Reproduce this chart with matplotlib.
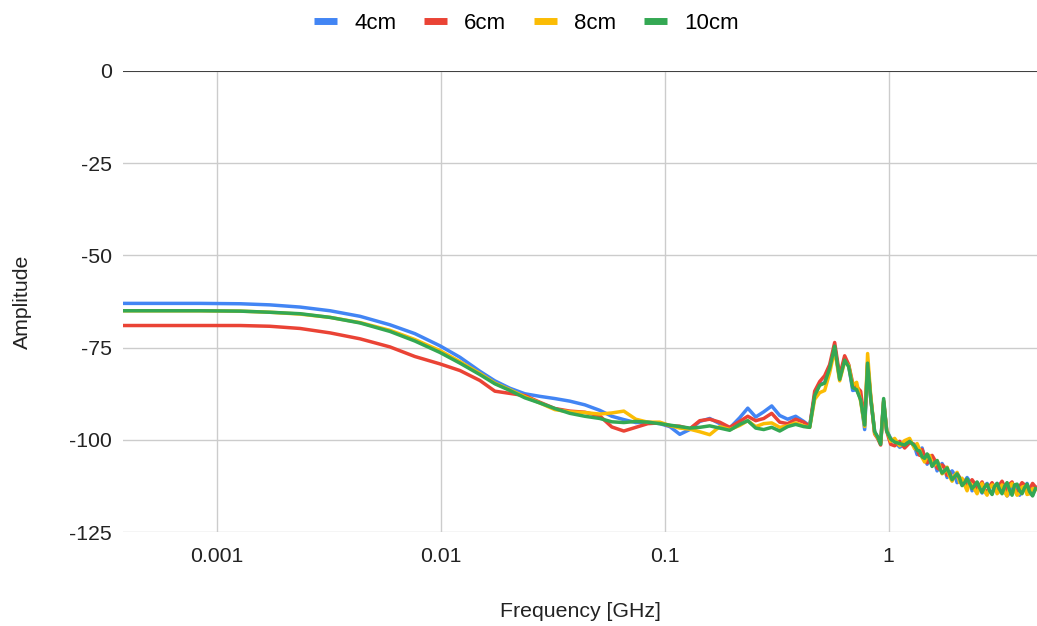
import matplotlib.pyplot as plt
from matplotlib.ticker import NullLocator

# frequency points in GHz
freq = [0.00038, 0.000556, 0.00084, 0.00127, 0.00172, 0.00235, 0.0032, 0.00435,
        0.00592, 0.00765, 0.0099, 0.01216, 0.01493, 0.01742, 0.02032, 0.02371,
        0.02767, 0.03228, 0.03766, 0.04394, 0.05127, 0.05799, 0.06561, 0.07422,
        0.08396, 0.09499, 0.1053, 0.1167, 0.1293, 0.1433, 0.1588, 0.176,
        0.195, 0.2161, 0.2348, 0.2548, 0.2767, 0.3004, 0.3262, 0.354,
        0.3843, 0.4174, 0.444, 0.4673, 0.492, 0.5179, 0.5452, 0.574,
        0.6043, 0.6361, 0.663, 0.6908, 0.7197, 0.7499, 0.7814, 0.8055,
        0.831, 0.866, 0.8932, 0.9211, 0.9499, 0.9797, 1.021, 1.064,
        1.12, 1.179, 1.241,
        1.306, 1.340, 1.375, 1.411, 1.448, 1.486, 1.524, 1.564, 1.605, 1.646,
        1.689, 1.733, 1.778, 1.825, 1.872, 1.921, 1.971, 2.022, 2.075, 2.129,
        2.184, 2.241, 2.299, 2.359, 2.421, 2.484, 2.548, 2.615, 2.683, 2.753,
        2.824, 2.898, 2.973, 3.051, 3.13, 3.211, 3.296, 3.381, 3.469, 3.559,
        3.652, 3.747, 3.845, 3.944, 4.048, 4.152, 4.261, 4.395, 4.532]

cm4 = [-63, -63, -63, -63.1, -63.4, -64, -65, -66.5,
       -68.8, -71.2, -74.5, -77.6, -81.4, -84, -86, -87.5,
       -88.2, -88.8, -89.5, -90.5, -92, -93.6, -94.5, -95.3,
       -95.2, -95.6, -96.4, -98.5, -97.2, -95, -94.2, -95.6,
       -96.8, -94, -91.4, -93.8, -92.4, -90.8, -93.4, -94.4,
       -93.6, -95, -96.2, -88, -84.8, -84.6, -80.2, -74.8,
       -83.4, -77.8, -79.8, -86.6, -86.4, -88.8, -97.2, -79.6,
       -88.6, -97.8, -99.2, -100.8, -89.8, -97.4, -99.6, -100.4,
       -102, -101.2, -100.2,
       -101.8, -104, -103.2, -102.2, -104.8, -106.6, -105.2, -107, -106, -108.4,
       -107.2, -106.4, -107.8, -110.2, -109, -108.4, -109.4, -111.6, -110.6, -112,
       -111.4, -110.2, -111.2, -113.8, -112.6, -111.6, -113.2, -114.4, -112.4, -111.8,
       -113.6, -114.6, -112.8, -111.8, -114, -113, -112.6, -115.2, -114.4, -113,
       -112.4, -114, -115, -113.6, -113.2, -111.8, -113.8, -115, -112.8]

cm6 = [-69, -69, -69, -69, -69.2, -69.8, -71, -72.6,
       -74.8, -77.4, -79.4, -81.2, -83.9, -86.8, -87.4, -88,
       -89.8, -91.5, -92.2, -92.5, -93.5, -96.5, -97.6, -96.6,
       -95.6, -95.4, -96.2, -96.3, -97, -94.8, -94.4, -95.2,
       -96.6, -95, -93.6, -94.8, -94.2, -92.8, -95.2, -95.6,
       -94.4, -95.2, -96.4, -86.8, -84.2, -82.6, -79.6, -73.6,
       -82.6, -77.2, -79.6, -84.6, -85.6, -86.8, -95.2, -79,
       -88.2, -98.4, -99.6, -101.4, -89.4, -97.6, -101.2, -101.6,
       -100.4, -102.2, -100.8,
       -101.2, -102.8, -104.2, -102.6, -104.4, -106.2, -105.6, -104.2, -105.4, -107.6,
       -108, -106.8, -107.4, -109.6, -108.8, -110.6, -110.2, -109, -110.2, -112.2,
       -111, -112.6, -112, -110.8, -111.8, -113.6, -112.4, -111.4, -113.4, -114.4,
       -112.6, -111.6, -113.2, -114, -112.2, -111.2, -112.8, -113.8, -112, -111.4,
       -113.4, -114.2, -112.6, -111.6, -112.2, -113.8, -113.4, -111.8, -112.8]

cm8 = [-65, -65, -65, -65.1, -65.4, -65.9, -66.8, -68.2,
       -70.3, -72.8, -75.8, -78.8, -82, -84.6, -86.4, -88.3,
       -90, -91.8, -92.4, -92.6, -93, -92.7, -92.2, -94.4,
       -95.2, -95.2, -96.1, -96.8, -97.1, -97.8, -98.6, -96.4,
       -97.2, -96.1, -94.8, -96.4, -95.6, -95.4, -96.6, -96.2,
       -95.4, -96.2, -96.6, -89, -87.2, -86.6, -81.8, -75.6,
       -84, -78.8, -79.8, -85.2, -84.4, -89.6, -96.4, -76.6,
       -87.8, -98.2, -99.4, -100.8, -89.6, -97.2, -100.4, -99.6,
       -101.6, -100.2, -99.6,
       -102.4, -101, -102.6, -104.8, -106, -104.2, -104.2, -106.4, -106.8, -105.6,
       -107, -109.2, -108.6, -107.4, -110, -111.2, -109.6, -108.8, -111.6, -110.4,
       -112.2, -113.8, -111.6, -112.4, -113.4, -114.6, -112.8, -111.8, -114, -115,
       -113.2, -112.2, -112.4, -114.6, -113.8, -112.2, -114.2, -115.2, -112.8, -111.8,
       -113.6, -115, -114.4, -112.8, -112.6, -114.8, -114.6, -113.2, -113.4]

cm10 = [-65, -65, -65, -65.1, -65.4, -65.8, -66.8, -68.3,
        -70.6, -73.2, -76.3, -79.2, -82.3, -84.8, -86.6, -88.6,
        -90, -91.5, -92.8, -93.6, -94.2, -95.1, -95.3, -95,
        -95.2, -95.6, -96, -96.4, -96.8, -96.6, -96.2, -96.8,
        -97.4, -95.8, -94.8, -96.8, -97.2, -96.6, -97.6, -96.4,
        -95.8, -96.4, -96.6, -88, -85.2, -84.6, -80.6, -74.6,
        -83.6, -78.4, -80.2, -85.8, -86.4, -89.2, -96, -79.2,
        -88.6, -97.8, -99.2, -101.2, -88.8, -97.6, -99.8, -100.6,
        -101, -101.4, -100.4,
        -101.6, -102.8, -103, -104.6, -105, -103.8, -105.2, -107.2, -106.2, -105.6,
        -107.6, -109, -108.4, -107.6, -109.2, -110.8, -110, -109.2, -110.4, -112.4,
        -111.6, -110.6, -111.8, -113.2, -112.4, -111.4, -113, -114.2, -112.8, -112,
        -113.8, -114.8, -112.6, -111.8, -113.4, -114.6, -112.6, -111.6, -113.6, -115,
        -112.2, -112, -113.8, -114.6, -113, -112, -114, -115.2, -113.2]

labels = ['4cm', '6cm', '8cm', '10cm']
colors = ['#4285F4', '#EA4335', '#FBBC04', '#34A853']

plt.rcParams['font.family'] = ['Liberation Sans', 'DejaVu Sans']

fig = plt.figure(figsize=(10.37, 6.26), dpi=100)
ax = fig.add_axes([0.1186, 0.150, 0.8814, 0.7366])

for ys, lab, c in zip([cm4, cm6, cm8, cm10], labels, colors):
    ax.plot(freq, ys, color=c, lw=2.5, label=lab, solid_joinstyle='round')

ax.set_xscale('log')
ax.set_xlim(0.00038, 4.6)
ax.set_ylim(-125, 0)
ax.set_xticks([0.001, 0.01, 0.1, 1])
ax.set_xticklabels(['0.001', '0.01', '0.1', '1'])
ax.xaxis.set_minor_locator(NullLocator())
ax.set_yticks([0, -25, -50, -75, -100, -125])
ax.set_yticklabels(['0', '-25', '-50', '-75', '-100', '-125'])
ax.grid(True, color='#cccccc', lw=1)
ax.set_axisbelow(True)
for s in ax.spines.values():
    s.set_visible(False)
ax.axhline(0, color='#333333', lw=1.3, zorder=1)
ax.tick_params(length=0, labelsize=15.3, colors='#222222')
ax.tick_params(axis='y', pad=8)
ax.tick_params(axis='x', pad=11)

ax.set_xlabel('Frequency [GHz]', fontsize=15.3, color='#222222', labelpad=26)
ax.set_ylabel('Amplitude', fontsize=15.3, color='#222222', labelpad=27)

leg = fig.legend(loc='center', bbox_to_anchor=(0.5077, 0.963), ncol=4, frameon=False,
                 fontsize=16, handlelength=1.04, handletextpad=0.77, columnspacing=1.25)
for h in leg.get_lines():
    h.set_linewidth(5)
    h.set_solid_capstyle('butt')

fig.savefig('out.png', dpi=100)
